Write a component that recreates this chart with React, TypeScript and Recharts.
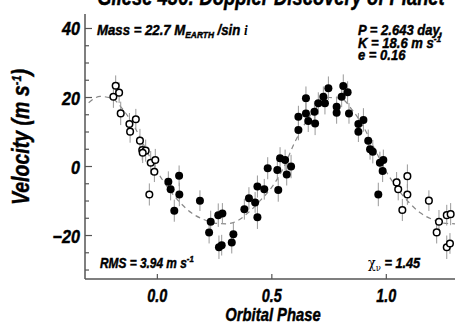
import { ComposedChart, Scatter, Line, XAxis, YAxis, ErrorBar } from 'recharts'

// measurements in phase 0..1 (filled)
const filledPhase = [0.048, 0.058, 0.095, 0.096, 0.074, 0.186, 0.233, 0.266, 0.284, 0.226, 0.269, 0.281, 0.325, 0.332, 0.38, 0.4, 0.427, 0.437, 0.437, 0.467, 0.482, 0.528, 0.524, 0.536, 0.558, 0.584, 0.565, 0.616, 0.616, 0.649, 0.649, 0.659, 0.686, 0.689, 0.703, 0.725, 0.732, 0.747, 0.783, 0.783, 0.805, 0.812, 0.831, 0.837, 0.878, 0.9, 0.878, 0.921, 0.929, 0.941, 0.972, 0.987, 0.984, 0.965]
const filledVel = [-4.4, -6.6, -2.7, -8.1, -12.8, -9.9, -16.0, -14.1, -13.6, -19.1, -23.4, -22.8, -22.0, -19.6, -12.4, -9.2, -10.4, -14.7, -5.8, -6.6, -0.5, -6.8, -1.0, 2.4, 1.9, 0.0, -2.3, 10.6, 14.4, 19.8, 15.4, 13.2, 15.9, 12.5, 18.3, 20.2, 18.3, 22.7, 17.3, 15.6, 20.2, 23.3, 21.5, 15.4, 12.3, 13.5, 10.1, 7.5, 5.0, 4.3, 1.1, 1.9, -1.3, -8.1]
const filledErr = [3.0, 3.2, 3.0, 3.4, 3.2, 3.0, 3.2, 3.4, 3.0, 3.2, 3.4, 3.0, 3.2, 3.4, 3.0, 3.2, 3.0, 3.4, 3.2, 3.0, 3.2, 3.4, 3.0, 3.2, 3.0, 3.4, 3.2, 3.0, 3.2, 3.4, 3.0, 3.2, 3.0, 3.4, 3.2, 3.0, 3.2, 3.4, 3.0, 3.2, 3.0, 3.4, 3.2, 3.0, 3.2, 3.4, 3.0, 3.2, 3.0, 3.4, 3.2, 3.0, 3.2, 3.4]

// repeated measurements outside 0..1 (open)
const openPhase = [-0.182, -0.192, -0.167, -0.16, -0.122, -0.094, -0.119, -0.076, -0.066, -0.051, -0.064, -0.029, -0.009, -0.013, -0.035, 1.045, 1.052, 1.092, 1.092, 1.07, 1.186, 1.23, 1.22, 1.264, 1.281, 1.264, 1.278]
const openVel = [23.4, 20.2, 21.4, 15.4, 12.3, 13.7, 10.1, 7.5, 4.8, 4.6, 4.0, 1.1, 1.9, -1.5, -8.1, -4.6, -6.6, -2.8, -8.1, -12.6, -9.9, -16.0, -19.1, -14.1, -13.8, -23.4, -22.3]
const openErr = [3.0, 3.2, 3.0, 3.4, 3.2, 3.0, 3.2, 3.4, 3.0, 3.2, 3.0, 3.4, 3.2, 3.0, 3.2, 3.0, 3.2, 3.4, 3.0, 3.2, 3.0, 3.4, 3.2, 3.0, 3.2, 3.4, 3.0]

// keplerian fit
const fitPhase = [-0.3, -0.25, -0.2, -0.15, -0.1, -0.05, 0, 0.05, 0.1, 0.15, 0.2, 0.25, 0.3, 0.35, 0.4, 0.45, 0.5, 0.55, 0.6, 0.65, 0.7, 0.75, 0.8, 0.85, 0.9, 0.95, 1.0, 1.05, 1.1, 1.15, 1.2, 1.25, 1.3]
const fitVel = [18.5, 20.3, 19.8, 16.5, 11.5, 5, -1.5, -6.5, -10.5, -13.5, -15.3, -16.4, -16.6, -15.7, -13.2, -9.8, -6, -0.5, 7, 13, 17.5, 20, 19.8, 16.5, 11.5, 5, -1.5, -6.5, -10.5, -13.5, -15.3, -16.4, -16.6]

const xTicks = [0, 0.5, 1]
const yTicks = [-30, -25, -20, -15, -10, -5, 0, 5, 10, 15, 20, 25, 30, 35, 40]

const filled = filledPhase.map((p, i) => ({ phase: p, v: filledVel[i], err: filledErr[i] }))
const open = openPhase.map((p, i) => ({ phase: p, v: openVel[i], err: openErr[i] }))
const fit = fitPhase.map((p, i) => ({ phase: p, v: fitVel[i] }))

const FONT = "'Liberation Sans', Arial, sans-serif"
const AX = '#555'
// heavy condensed look: bold italic + thin outline
const lbl = {
  fontFamily: FONT,
  fontWeight: 700,
  fontStyle: 'italic' as const,
  fill: '#000',
  stroke: '#000',
  strokeWidth: 0.45,
}

// condensed text: the bold-condensed face isn't installed, so squeeze horizontally
function T({ x, y, s = 0.8, size, anchor = 'start', rot = 0, children }: any) {
  return (
    <text
      transform={`translate(${x},${y}) rotate(${rot}) scale(${s},1)`}
      textAnchor={anchor}
      fontSize={size}
      {...lbl}
    >
      {children}
    </text>
  )
}

const fmtY = (v: number) => (v < 0 ? '\u2212' + Math.abs(v) : String(v))

function LeftTick({ x, y, payload }: any) {
  const major = payload.value % 20 === 0
  return (
    <g>
      <line x1={x} x2={x + (major ? 7 : 4)} y1={y} y2={y} stroke={AX} strokeWidth={1.2} />
      {major && (
        <T x={x - 5} y={y + 7} s={0.85} size={19} anchor="end">
          {fmtY(payload.value)}
        </T>
      )}
    </g>
  )
}

function RightTick({ x, y, payload }: any) {
  const major = payload.value % 20 === 0
  return <line x1={x} x2={x - (major ? 7 : 4)} y1={y} y2={y} stroke={AX} strokeWidth={1.2} />
}

function BottomTick({ x, y, payload }: any) {
  return (
    <g>
      <line x1={x} x2={x} y1={y} y2={y - 5} stroke={AX} strokeWidth={1.2} />
      <T x={x} y={y + 23} s={0.8} size={18} anchor="middle">
        {payload.value.toFixed(1)}
      </T>
    </g>
  )
}

function TopTick({ x, y }: any) {
  return <line x1={x} x2={x} y1={y} y2={y + 5} stroke={AX} strokeWidth={1.2} />
}

const Dot = (props: any) => <circle cx={props.cx} cy={props.cy} r={4} fill="#000" />
const Ring = (props: any) => (
  <circle cx={props.cx} cy={props.cy} r={3.3} fill="#fff" stroke="#000" strokeWidth={1.5} />
)

const sym = {
  fontFamily: "'DejaVu Serif', serif",
  fontWeight: 400,
  fontStyle: 'normal' as const,
  strokeWidth: 0,
}

export default function App() {
  return (
    <div style={{ position: 'absolute', left: 0, top: 0, width: 456, height: 324, background: '#fff' }}>
      <ComposedChart width={456} height={324} margin={{ top: 14, right: 1, bottom: 0, left: 0 }}>
        <XAxis
          dataKey="phase"
          type="number"
          domain={[-0.316, 1.3]}
          ticks={xTicks}
          interval={0}
          allowDataOverflow
          height={45}
          tickSize={0}
          tickMargin={0}
          tickLine={false}
          axisLine={{ stroke: AX, strokeWidth: 1.5 }}
          tick={<BottomTick />}
        />
        <XAxis
          xAxisId="top"
          orientation="top"
          dataKey="phase"
          type="number"
          domain={[-0.316, 1.3]}
          ticks={xTicks}
          interval={0}
          allowDataOverflow
          height={0}
          tickSize={0}
          tickMargin={0}
          tickLine={false}
          axisLine={{ stroke: AX, strokeWidth: 1.5 }}
          tick={<TopTick />}
        />
        <YAxis
          type="number"
          domain={[-32.6, 44.2]}
          ticks={yTicks}
          interval={0}
          allowDataOverflow
          width={85}
          tickSize={0}
          tickMargin={0}
          tickLine={false}
          axisLine={{ stroke: AX, strokeWidth: 1.5 }}
          tick={<LeftTick />}
        />
        <YAxis
          yAxisId="right"
          orientation="right"
          type="number"
          domain={[-32.6, 44.2]}
          ticks={yTicks}
          interval={0}
          allowDataOverflow
          width={0}
          tickSize={0}
          tickMargin={0}
          tickLine={false}
          axisLine={{ stroke: AX, strokeWidth: 1.5 }}
          tick={<RightTick />}
        />
        <Line
          data={fit}
          dataKey="v"
          type="monotone"
          stroke="#888"
          strokeWidth={1.2}
          strokeDasharray="5 4"
          dot={false}
          activeDot={false}
          isAnimationActive={false}
        />
        <Scatter data={open} dataKey="v" shape={Ring} isAnimationActive={false}>
          <ErrorBar dataKey="err" direction="y" width={0} stroke="#999" strokeWidth={1} />
        </Scatter>
        <Scatter data={filled} dataKey="v" shape={Dot} isAnimationActive={false}>
          <ErrorBar dataKey="err" direction="y" width={0} stroke="#999" strokeWidth={1} />
        </Scatter>
      </ComposedChart>
      <svg width={456} height={324} style={{ position: 'absolute', left: 0, top: 0, pointerEvents: 'none' }}>
        <T x={271} y={5} s={0.8} size={23} anchor="middle">
          Gliese 436: Doppler Discovery of Planet
        </T>
        <T x={29} y={137} s={0.85} size={23} anchor="middle" rot={-90}>
          Velocity  (m s<tspan dy={-8} fontSize={13}>-1</tspan>
          <tspan dy={8}>)</tspan>
        </T>
        <T x={273} y={321} s={0.8} size={18.5} anchor="middle">
          Orbital Phase
        </T>
        <T x={97} y={35} s={0.88} size={15}>
          Mass = 22.7 M<tspan dy={3} fontSize={9.5}>EARTH</tspan>
          <tspan dy={-3}> /sin </tspan>
          <tspan fontFamily="'Liberation Serif', serif" strokeWidth={0}>i</tspan>
        </T>
        <T x={358} y={35} s={0.87} size={15}>
          P = 2.643 day,
        </T>
        <T x={358} y={48} s={0.87} size={15}>
          K = 18.6 m s<tspan dy={-6} fontSize={9.5}>-1</tspan>
        </T>
        <T x={358} y={60} s={0.87} size={15}>
          e = 0.16
        </T>
        <T x={100} y={268} s={0.82} size={14.5}>
          RMS = 3.94 m s<tspan dy={-6} fontSize={9.5}>-1</tspan>
        </T>
        <T x={368} y={268} s={0.85} size={15}>
          <tspan {...sym}>χ</tspan>
          <tspan dy={3} fontSize={10} {...sym}>ν</tspan>
          <tspan dy={-3}> = 1.45</tspan>
        </T>
      </svg>
    </div>
  )
}
